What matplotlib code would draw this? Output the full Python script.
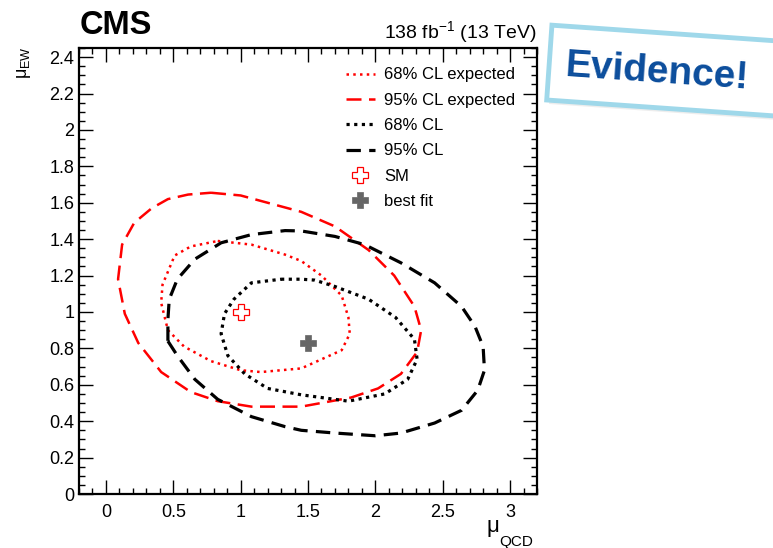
import matplotlib
matplotlib.use("Agg")
import matplotlib.pyplot as plt
from matplotlib.patches import Rectangle
from matplotlib.ticker import MultipleLocator, FuncFormatter

plt.rcParams["font.family"] = ["Liberation Sans", "DejaVu Sans"]
plt.rcParams["mathtext.fontset"] = "custom"
plt.rcParams["mathtext.rm"] = "Liberation Sans"
plt.rcParams["mathtext.it"] = "Liberation Sans:italic"
plt.rcParams["mathtext.bf"] = "Liberation Sans:bold"

# contours, (mu_QCD, mu_EW)
exp95_x = [0.78, 1.00, 1.20, 1.45, 1.70, 1.95, 2.14, 2.29, 2.34, 2.31, 2.19, 2.02, 1.82, 1.45, 1.08,
           0.83, 0.63, 0.41, 0.24, 0.14, 0.09, 0.12, 0.21, 0.34, 0.46, 0.61]
exp95_y = [1.655, 1.64, 1.60, 1.55, 1.47, 1.34, 1.20, 1.03, 0.90, 0.78, 0.66, 0.58, 0.53, 0.48, 0.48,
           0.51, 0.56, 0.67, 0.83, 0.99, 1.18, 1.37, 1.49, 1.57, 1.62, 1.645]

exp68_x = [0.83, 1.08, 1.33, 1.45, 1.60, 1.75, 1.80, 1.81, 1.75, 1.57, 1.45, 1.15, 1.00, 0.78, 0.58,
           0.46, 0.41, 0.42, 0.51, 0.63]
exp68_y = [1.39, 1.37, 1.315, 1.28, 1.20, 1.09, 0.97, 0.88, 0.79, 0.73, 0.69, 0.67, 0.68, 0.73, 0.81,
           0.90, 1.05, 1.15, 1.31, 1.36]

obs68_x = [1.30, 1.45, 1.55, 1.70, 1.95, 2.15, 2.29, 2.31, 2.24, 2.07, 1.80, 1.60, 1.45, 1.20, 1.03,
           0.905, 0.855, 0.88, 0.95, 1.08]
obs68_y = [1.18, 1.18, 1.175, 1.14, 1.07, 0.97, 0.85, 0.74, 0.63, 0.55, 0.51, 0.53, 0.545, 0.58, 0.66,
           0.76, 0.88, 0.99, 1.07, 1.16]

obs95_x = [0.46, 0.53, 0.66, 0.83, 1.08, 1.33, 1.45, 1.70, 2.00, 2.19, 2.44, 2.64, 2.76, 2.81, 2.80,
           2.74, 2.64, 2.44, 2.19, 1.92, 1.70, 1.45, 1.33, 1.08, 0.855, 0.66, 0.53, 0.47, 0.46]
obs95_y = [0.84, 0.76, 0.63, 0.52, 0.425, 0.37, 0.35, 0.335, 0.32, 0.335, 0.39, 0.46, 0.57, 0.68, 0.81,
           0.92, 1.03, 1.16, 1.27, 1.37, 1.415, 1.445, 1.447, 1.425, 1.38, 1.29, 1.18, 1.07, 0.96]

sm_point = (1.0, 1.0)
best_fit = (1.5, 0.83)

labels = ["68% CL expected", "95% CL expected", "68% CL", "95% CL", "SM", "best fit"]


def closed(xs, ys):
    return xs + xs[:1], ys + ys[:1]


W, H = 773, 548
fig = plt.figure(figsize=(W / 100, H / 100), dpi=100)
ax = fig.add_axes([0.1022, 0.0985, 0.5925, 0.8139])

h1, = ax.plot(*closed(exp68_x, exp68_y), color="red", lw=1.8, linestyle=(0, (1, 1.7)))
h2, = ax.plot(*closed(exp95_x, exp95_y), color="red", lw=1.8, linestyle=(0, (6, 3)))
h3, = ax.plot(*closed(obs68_x, obs68_y), color="black", lw=2.3, linestyle=(0, (1, 1.4)))
h4, = ax.plot(*closed(obs95_x, obs95_y), color="black", lw=2.3, linestyle=(0, (4.5, 2.6)))
h5, = ax.plot([sm_point[0]], [sm_point[1]], linestyle="none", marker="P", ms=11,
              mfc="white", mec="red", mew=0.9)
h6, = ax.plot([best_fit[0]], [best_fit[1]], linestyle="none", marker="P", ms=11,
              mfc="#666666", mec="#666666", mew=0.5)

ax.legend([h1, h2, h3, h4, h5, h6], labels, loc="upper left", bbox_to_anchor=(0.55, 0.99),
          frameon=False, fontsize=12, handlelength=1.75, handletextpad=0.55, labelspacing=0.62)

ax.set_xlim(-0.2, 3.2)
ax.set_ylim(0, 2.45)
ax.xaxis.set_major_locator(MultipleLocator(0.5))
ax.xaxis.set_minor_locator(MultipleLocator(0.1))
ax.yaxis.set_major_locator(MultipleLocator(0.2))
ax.yaxis.set_minor_locator(MultipleLocator(0.05))
fmt = FuncFormatter(lambda v, p: "%g" % round(v, 3))
ax.xaxis.set_major_formatter(fmt)
ax.yaxis.set_major_formatter(fmt)
ax.tick_params(which="both", direction="in", top=True, right=True, labelsize=13)
ax.tick_params(which="major", length=10, width=1)
ax.tick_params(which="minor", length=4.5, width=1)
ax.tick_params(axis="x", pad=7)
for s in ax.spines.values():
    s.set_linewidth(1.6)

# axis titles, ROOT style (deep subscript on the x title)
fig.text(487 / W, 1 - 532 / H, "μ", fontsize=16, ha="left", va="baseline")
fig.text(499 / W, 1 - 546 / H, "QCD", fontsize=11, ha="left", va="baseline")
ax.set_ylabel("μ$_{\\mathrm{EW}}$", fontsize=13, loc="top")
ax.yaxis.set_label_coords(-0.10, 1.005)

fig.text(80 / W, 1 - 34 / H, "CMS", fontsize=23.5, fontweight="bold", ha="left", va="baseline")
fig.text(537 / W, 1 - 38 / H, "138 fb$^{-1}$ (13 TeV)", fontsize=14, ha="right", va="baseline")

# "Evidence!" stamp, tilted and running off the right edge
shadow = Rectangle((5.49, 4.44), 2.6, 0.75, angle=-4, transform=fig.dpi_scale_trans,
                   facecolor="#dddddd", edgecolor="none", alpha=0.5)
box = Rectangle((5.467, 4.48), 2.6, 0.75, angle=-4, transform=fig.dpi_scale_trans,
                facecolor="white", edgecolor="#9fd8ea", lw=3.5)
fig.patches.extend([shadow, box])
fig.text(5.65, 4.82, "Evidence!", transform=fig.dpi_scale_trans, fontsize=28, fontweight="bold",
         color="#0b4d9c", rotation=-4, rotation_mode="anchor", ha="left", va="center")

fig.savefig("out.png", dpi=100)
